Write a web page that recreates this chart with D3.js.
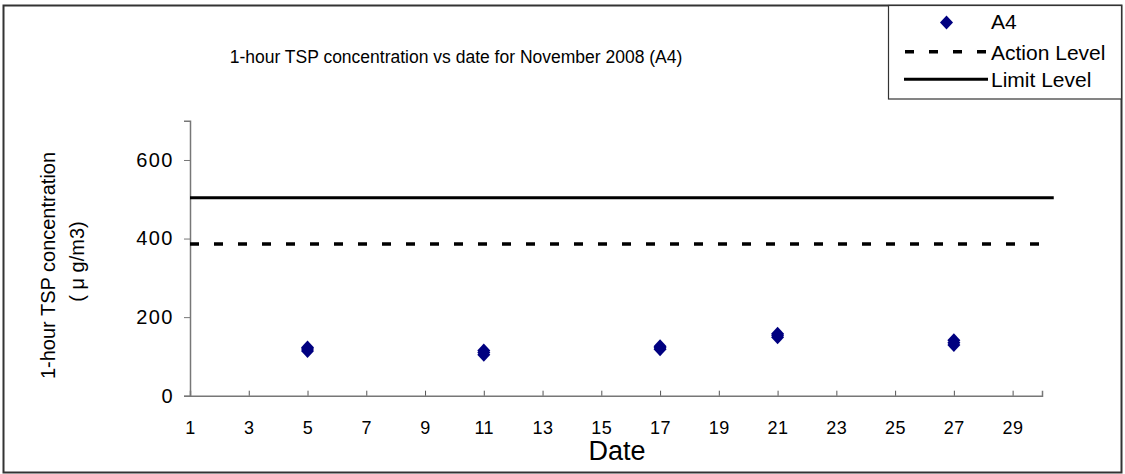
<!DOCTYPE html>
<html><head><meta charset="utf-8">
<script src="https://cdn.jsdelivr.net/npm/d3@7/dist/d3.min.js"></script>
<style>body{margin:0;background:#fff}svg{display:block}text{font-family:"Liberation Sans",Arial,sans-serif;fill:#000}</style>
</head><body><svg id="c" width="1125" height="474"></svg>
<script>
const title = "1-hour TSP concentration vs date for November 2008 (A4)";
const yLabel1 = "1-hour TSP concentration";
const yLabel2 = "( \u03bc g/m3)";
const xLabel = "Date";
const xTicks = [1,3,5,7,9,11,13,15,17,19,21,23,25,27,29];
const yTicks = [0,200,400,600];
const a4Dates  = [5,5,5,11,11,11,17,17,17,21,21,21,27,27,27];
const a4Values = [114,119,123,104,110,115,118,122,126,149,154,158,129,135,141];
const actionDates = [1,30];
const actionValues = [386,386];
const limitDates = [1,30.4];
const limitValues = [504,504];
const legendNames = ["A4","Action Level","Limit Level"];

const svg = d3.select("#c");
const x = d3.scaleLinear().domain([1,30]).range([190,1042]);
const y = d3.scaleLinear().domain([0,700]).range([395.7,120.7]);

// outer frame
svg.append("rect").attr("x",3.5).attr("y",5.5).attr("width",1118).attr("height",467)
  .attr("fill","none").attr("stroke","#333").attr("stroke-width",2);

// title
svg.append("text").attr("x",456).attr("y",63).attr("text-anchor","middle")
  .style("font-size","17.5px").text(title);

// axes
const gx = svg.append("g").attr("transform",`translate(0,${y(0)})`)
  .call(d3.axisBottom(x).tickValues(xTicks).tickSize(-5).tickPadding(26).tickFormat(d3.format("d")));
gx.select(".domain").attr("stroke","#777").attr("stroke-width",1.5);
gx.selectAll(".tick line").attr("stroke","#555");
gx.selectAll(".tick text").style("font-size","18px").style("letter-spacing","0.5px");

const gy = svg.append("g").attr("transform",`translate(${x(1)},0)`)
  .call(d3.axisLeft(y).tickValues(yTicks).tickSize(6).tickPadding(10));
gy.select(".domain").attr("stroke","#777").attr("stroke-width",1.5);
gy.selectAll(".tick line").attr("stroke","#777");
gy.selectAll(".tick text").style("font-size","20px").style("letter-spacing","1.5px");

// axis labels
svg.append("text").attr("x",617).attr("y",460).attr("text-anchor","middle")
  .style("font-size","27px").text(xLabel);
svg.append("text").attr("transform","translate(55,265.5) rotate(-90)").attr("text-anchor","middle")
  .style("font-size","20px").text(yLabel1);
svg.append("text").attr("transform","translate(84,261.5) rotate(-90)").attr("text-anchor","middle")
  .style("font-size","20px").text(yLabel2);

// level lines
const line = d3.line().x(d=>x(d[0])).y(d=>y(d[1]));
svg.append("path").datum(actionDates.map((d,i)=>[d,actionValues[i]])).attr("d",line)
  .attr("fill","none").attr("stroke","#000").attr("stroke-width",3.5).attr("stroke-dasharray","9,15");
svg.append("path").datum(limitDates.map((d,i)=>[d,limitValues[i]])).attr("d",line)
  .attr("fill","none").attr("stroke","#000").attr("stroke-width",3);

// points
const diamond = "M0,-7L6.5,0L0,7L-6.5,0Z";
svg.append("g").selectAll("path").data(a4Dates.map((d,i)=>[d,a4Values[i]])).join("path")
  .attr("d",diamond).attr("transform",d=>`translate(${x(d[0])},${y(d[1])})`).attr("fill","#000080");

// legend
const lg = svg.append("g");
lg.append("rect").attr("x",888.5).attr("y",5.5).attr("width",233).attr("height",93.5)
  .attr("fill","#fff").attr("stroke","#333").attr("stroke-width",1.2);
lg.append("path").attr("d",diamond).attr("transform","translate(946.5,22.5)").attr("fill","#000080");
lg.append("line").attr("x1",905).attr("x2",987).attr("y1",51.7).attr("y2",51.7)
  .attr("stroke","#000").attr("stroke-width",3.5).attr("stroke-dasharray","9,15");
lg.append("line").attr("x1",904).attr("x2",988).attr("y1",79.3).attr("y2",79.3)
  .attr("stroke","#000").attr("stroke-width",3);
const ly = [29,60,87];
legendNames.forEach((n,i)=>lg.append("text").attr("x",991).attr("y",ly[i]).style("font-size","21px").text(n));
</script></body></html>
